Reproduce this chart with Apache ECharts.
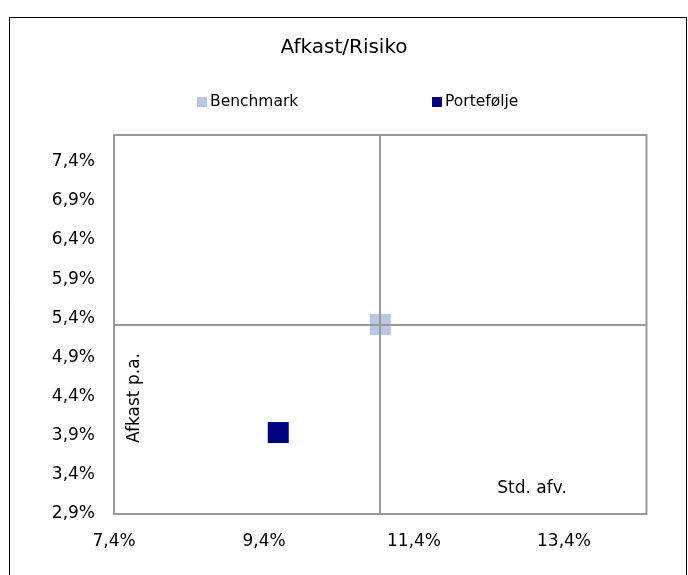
<!DOCTYPE html>
<html>
<head>
<meta charset="utf-8">
<script src="https://cdn.jsdelivr.net/npm/echarts@6/dist/echarts.min.js"></script>
<style>
  html, body { margin: 0; padding: 0; background: #fff; }
  #chart { width: 688px; height: 575px; }
</style>
</head>
<body>
<div id="chart"></div>
<script>
// data
const seriesNames = ['Benchmark', 'Portefølje']
const benchmark   = [[10.95, 5.32]]   // [std. afv., afkast]
const portefolje  = [[9.59, 3.94]]
const xTicks      = [7.4, 9.4, 11.4, 13.4]
const yTicks      = [2.9, 3.4, 3.9, 4.4, 4.9, 5.4, 5.9, 6.4, 6.9, 7.4]
const xRange      = [7.4, 14.5]
const yRange      = [2.9, 7.74]

const font = 'DejaVu Sans'
const pct  = v => v.toFixed(1).replace('.', ',') + '%'

const chart = echarts.init(document.getElementById('chart'))

chart.setOption({
  animation: false,
  textStyle: { fontFamily: font },
  title: {
    text     : 'Afkast/Risiko',
    left     : 'center',
    top      : 33,
    textStyle: { fontFamily: font, fontSize: 20, fontWeight: 'normal', color: '#000' }
  },
  legend: [
    {
      data     : [seriesNames[0]],
      left     : 192,
      top      : 89,
      icon     : 'rect',
      itemWidth: 10, itemHeight: 10, itemGap: 4,
      textStyle: { fontFamily: font, fontSize: 15.5, color: '#000', padding: [0, 0, 0, -2] }
    },
    {
      data     : [seriesNames[1]],
      left     : 427,
      top      : 89,
      icon     : 'rect',
      itemWidth: 10, itemHeight: 10, itemGap: 4,
      textStyle: { fontFamily: font, fontSize: 15.5, color: '#000', padding: [0, 0, 0, -2] }
    }
  ],
  grid: {
    left: 114, top: 135, right: 41.5, bottom: 61,
    show: true, borderColor: '#999', borderWidth: 2, backgroundColor: '#fff'
  },
  xAxis: {
    type     : 'value',
    min      : xRange[0],
    max      : xRange[1],
    axisLine : { show: false },
    axisTick : { show: false },
    splitLine: { show: false },
    axisLabel: {
      customValues: xTicks,
      formatter   : pct,
      margin      : 19,
      fontFamily  : font,
      fontSize    : 17,
      color       : '#000'
    }
  },
  yAxis: {
    type     : 'value',
    min      : yRange[0],
    max      : yRange[1],
    axisLine : { show: false },
    axisTick : { show: false },
    splitLine: { show: false },
    axisLabel: {
      customValues: yTicks,
      formatter   : pct,
      margin      : 19,
      fontFamily  : font,
      fontSize    : 17,
      color       : '#000'
    }
  },
  // axis titles sit inside the plot in the original
  graphic: [
    {
      type : 'rect',
      shape: { x: 9.5, y: 17.5, width: 677, height: 600 },
      style: { fill: 'none', stroke: '#000', lineWidth: 1 },
      z    : -10
    },
    {
      type    : 'text',
      x       : 135, y: 398,
      rotation: Math.PI / 2,
      style   : { text: 'Afkast p.a.', font: '17px "DejaVu Sans"', fill: '#000', align: 'center', verticalAlign: 'middle' }
    },
    {
      type : 'text',
      x    : 532, y: 489,
      style: { text: 'Std. afv.', font: '17px "DejaVu Sans"', fill: '#000', align: 'center', verticalAlign: 'middle' }
    }
  ],
  series: [
    {
      // crosshair through the benchmark
      type    : 'scatter',
      data    : [],
      z       : 1,
      silent  : true,
      markLine: {
        symbol   : 'none',
        silent   : true,
        label    : { show: false },
        lineStyle: { color: '#999', width: 2, type: 'solid' },
        data     : [{ xAxis: benchmark[0][0] }, { yAxis: benchmark[0][1] }]
      }
    },
    {
      name      : seriesNames[0],
      type      : 'scatter',
      symbol    : 'rect',
      symbolSize: 21,
      itemStyle : { color: '#b9c7e4', opacity: 1 },
      z         : 3,
      data      : benchmark
    },
    {
      name      : seriesNames[1],
      type      : 'scatter',
      symbol    : 'rect',
      symbolSize: 21,
      itemStyle : { color: '#000080', opacity: 1 },
      z         : 3,
      data      : portefolje
    }
  ]
})
</script>
</body>
</html>
